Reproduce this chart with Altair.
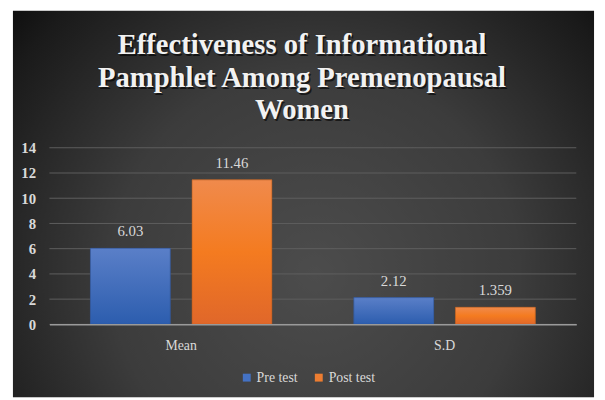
import altair as alt
import pandas as pd

categories = ["Mean", "S.D"]
series = ["Pre test", "Post test"]
pre_test = [6.03, 2.12]
post_test = [11.46, 1.359]
y_ticks = [0, 2, 4, 6, 8, 10, 12, 14]
title_lines = ["Effectiveness of Informational", "Pamphlet Among Premenopausal", "Women"]
series_colors = ["#4472C4", "#ED7D31"]

rows = []
for c, a, b in zip(categories, pre_test, post_test):
    rows.append({"cat": c, "series": series[0], "value": a, "label": str(a)})
    rows.append({"cat": c, "series": series[1], "value": b, "label": str(b)})
df = pd.DataFrame(rows)

W, H = 534, 179
FONT = "'Liberation Serif', 'Times New Roman', 'DejaVu Serif', serif"
TXT = "#d9d9d9"

x_enc = alt.X(
    "cat:N", sort=categories,
    scale=alt.Scale(paddingInner=0.311, paddingOuter=0.1555),
    axis=alt.Axis(title=None, labelAngle=0, ticks=False, domain=True, zindex=1,
                  domainColor="#9a9a9a", domainWidth=1.5, labelPadding=14,
                  labelFont=FONT, labelFontSize=14, labelColor=TXT, grid=False),
)
xo_enc = alt.XOffset("series:N", sort=series,
                     scale=alt.Scale(domain=series, paddingInner=0.214, paddingOuter=0))
y_axis = alt.Axis(title=None, values=y_ticks, ticks=False, domain=False, grid=False,
                  zindex=1, labelPadding=14, labelFont=FONT, labelFontSize=15,
                  labelFontWeight="bold", labelColor=TXT)
y_scale = alt.Scale(domain=[0, 14], nice=False)
y_enc = alt.Y("value:Q", scale=y_scale, axis=y_axis)

bg = alt.Chart(pd.DataFrame({"bg": [0]})).mark_rect(
    clip=False,
    fill={"gradient": "radial", "x1": 0.52, "y1": 0.62, "r1": 0,
          "x2": 0.52, "y2": 0.62, "r2": 0.78,
          "stops": [{"offset": 0, "color": "#4c4c4c"},
                    {"offset": 0.45, "color": "#3c3c3c"},
                    {"offset": 0.8, "color": "#1a1a1a"},
                    {"offset": 1, "color": "#000000"}]},
).encode(x=alt.value(-37), x2=alt.value(552), y=alt.value(-139), y2=alt.value(253))

grid = alt.Chart(pd.DataFrame({"value": y_ticks})).mark_rule(
    color="#5e5e5e", strokeWidth=1).encode(
    y=y_enc, x=alt.value(0), x2=alt.value(W))

title_df = pd.DataFrame({"t": ["\n".join(title_lines)]})
title_shadow = alt.Chart(title_df).mark_text(
    font=FONT, fontSize=29, fontWeight="bold", color="#000000", opacity=0.6,
    lineBreak="\n", lineHeight=33, align="center", baseline="alphabetic",
    dx=1.5, dy=2).encode(x=alt.value(256), y=alt.value(-95), text="t:N")
title_txt = alt.Chart(title_df).mark_text(
    font=FONT, fontSize=29, fontWeight="bold", color="#f2f2f2",
    lineBreak="\n", lineHeight=33, align="center", baseline="alphabetic").encode(
    x=alt.value(256), y=alt.value(-95), text="t:N")

base = alt.Chart(df)

bars = base.mark_bar().encode(
    x=x_enc, xOffset=xo_enc, y=y_enc,
    color=alt.Color("series:N", sort=series,
                    scale=alt.Scale(domain=series, range=series_colors),
                    legend=alt.Legend(title=None, orient="none", legendX=193, legendY=226,
                                      direction="horizontal", symbolType="square",
                                      symbolSize=64, symbolStrokeWidth=0,
                                      labelFont=FONT, labelFontSize=14, labelColor=TXT,
                                      columnPadding=14, labelOffset=3)),
)

blue_grad = {"gradient": "linear", "x1": 0, "y1": 0, "x2": 0, "y2": 1,
             "stops": [{"offset": 0, "color": "#5a7fc8"},
                       {"offset": 1, "color": "#2c5dae"}]}
orange_grad = {"gradient": "linear", "x1": 0, "y1": 0, "x2": 0, "y2": 1,
               "stops": [{"offset": 0, "color": "#f08a4c"},
                         {"offset": 0.5, "color": "#f47b20"},
                         {"offset": 1, "color": "#e0672a"}]}

pre_bars = base.transform_filter(alt.datum.series == series[0]).mark_bar(
    fill=blue_grad, stroke="#2f528f", strokeWidth=0.6).encode(x=x_enc, xOffset=xo_enc, y=y_enc)
post_bars = base.transform_filter(alt.datum.series == series[1]).mark_bar(
    fill=orange_grad, stroke="#ae5a21", strokeWidth=0.6).encode(x=x_enc, xOffset=xo_enc, y=y_enc)

labels = base.mark_text(font=FONT, fontSize=15, color=TXT, dy=-12,
                        baseline="alphabetic").encode(
    x=x_enc, xOffset=xo_enc, y=y_enc, text="label:N")

chart = alt.layer(bg, grid, title_shadow, title_txt, bars, pre_bars, post_bars, labels).properties(
    width=W, height=H,
    autosize=alt.AutoSizeParams(type="none"),
    padding={"left": 42, "top": 139, "right": 21, "bottom": 74},
).configure_view(stroke=None).configure(background="white")

chart.save("out.html", embed_options={"renderer": "svg", "actions": False})
